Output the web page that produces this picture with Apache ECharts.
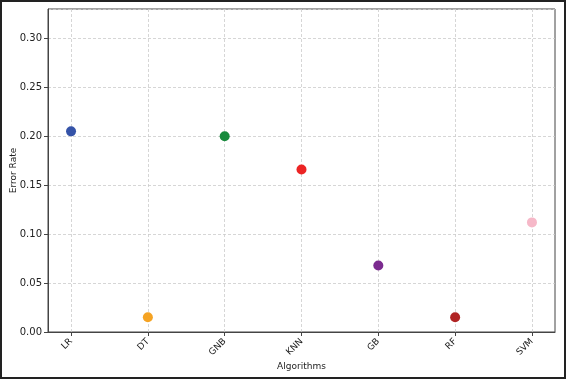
<!DOCTYPE html>
<html><head><meta charset="utf-8">
<script src="https://cdn.jsdelivr.net/npm/echarts@6/dist/echarts.min.js"></script>
<style>html,body{margin:0;padding:0;background:#fff}#c{width:566px;height:380px}</style>
</head><body><div id="c"></div>
<script>
const categories = ['LR','DT','GNB','KNN','GB','RF','SVM'];
const errorRates = [0.205, 0.015, 0.200, 0.166, 0.068, 0.015, 0.112];
const colors = ['#3553a8','#f5a323','#178a3c','#ec2424','#7b2b8f','#b02424','#f6b8c8'];
const yTicks = [0, 0.05, 0.10, 0.15, 0.20, 0.25, 0.30];

const chart = echarts.init(document.getElementById('c'), null, {renderer:'canvas'});
const idx = categories.map((_, i) => i);
const gridStyle = {show:true, lineStyle:{color:'#cccccc', type:[3,2], width:0.8}};
chart.setOption({
  animation:false,
  graphic:[{type:'rect', shape:{x:1,y:1,width:564,height:377}, style:{fill:'none', stroke:'#222', lineWidth:2}, silent:true}],
  grid:{left:48, right:11, top:9, bottom:48, show:true, borderColor:'#444', borderWidth:1,
    backgroundColor:'transparent', containLabel:false, outerBoundsMode:'none'},
  xAxis:{
    type:'value', min:-0.3, max:6.3,
    name:'Algorithms', nameLocation:'middle', nameGap:30, nameMoveOverlap:false,
    nameTextStyle:{fontSize:9, color:'#222', fontFamily:'DejaVu Sans'},
    axisLine:{show:true, onZero:false, lineStyle:{color:'#444'}},
    axisTick:{show:true, customValues: idx, length:4, lineStyle:{color:'#444'}},
    axisLabel:{customValues: idx, rotate:45, fontSize:9, color:'#222', fontFamily:'DejaVu Sans', margin:8,
      formatter: v => categories[Math.round(v)] || ''},
    splitLine: gridStyle
  },
  yAxis:{
    type:'value', min:0, max:0.33, interval:0.05,
    name:'Error Rate', nameLocation:'middle', nameGap:30, nameMoveOverlap:false,
    nameTextStyle:{fontSize:9, color:'#222', fontFamily:'DejaVu Sans'},
    axisLine:{show:true, onZero:false, lineStyle:{color:'#444'}},
    axisTick:{show:true, length:4, lineStyle:{color:'#444'}},
    axisLabel:{fontSize:10, color:'#222', fontFamily:'DejaVu Sans', margin:6,
      formatter: v => v.toFixed(2), showMaxLabel:false},
    splitLine: gridStyle
  },
  series:[{
    type:'scatter', symbolSize:10,
    data: errorRates.map((v,i) => ({value:[i, v], itemStyle:{color:colors[i], opacity:1}}))
  }]
});
</script></body></html>
